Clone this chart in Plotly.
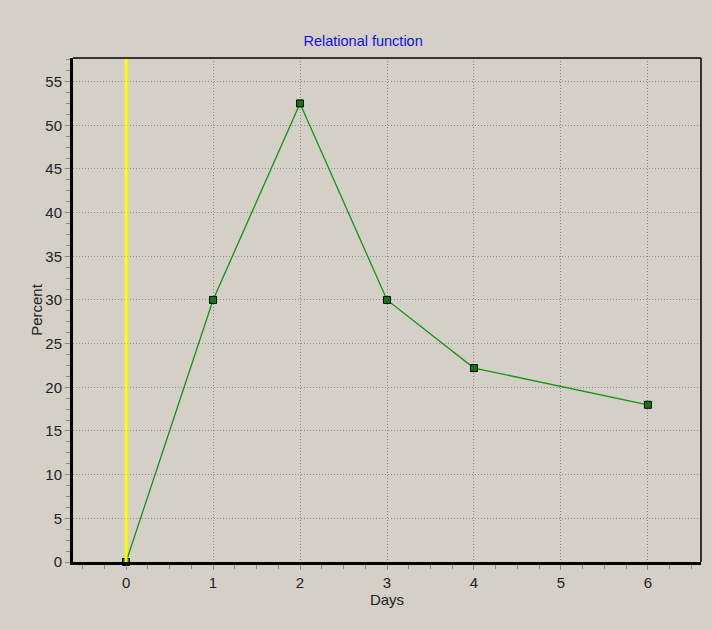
import plotly.graph_objects as go

days = [0, 1, 2, 3, 4, 6]
percent = [0, 30, 52.5, 30, 22.2, 18]
x_ticks = [0, 1, 2, 3, 4, 5, 6]
y_ticks = [0, 5, 10, 15, 20, 25, 30, 35, 40, 45, 50, 55]

BG = "#D4D0C8"
FAM = "Liberation Sans, Arial, sans-serif"
fig = go.Figure()
fig.add_shape(type="line", xref="x", yref="paper", x0=0, x1=0, y0=0, y1=1,
              line=dict(color="#FFFF00", width=3), layer="above")
fig.add_trace(go.Scatter(
    x=days, y=percent, mode="lines+markers",
    line=dict(color="#139413", width=1.3),
    marker=dict(symbol="square", size=7, color="#117711", line=dict(color="black", width=1)),
    showlegend=False, cliponaxis=False,
))

fig.update_layout(
    width=712, height=630,
    paper_bgcolor=BG, plot_bgcolor=BG,
    margin=dict(l=73, r=11, t=58, b=68),
    font=dict(family=FAM, size=15, color="#222222"),
    title=dict(text="Relational function", x=0.51, xanchor="center", xref="container", y=0.935, yanchor="middle",
               font=dict(family=FAM, size=14.5, color="#1010EE")),
    xaxis=dict(range=[-0.61, 6.61], tickvals=x_ticks, ticks="outside", ticklen=5, tickcolor="#888888",
               showgrid=True, gridcolor="#8a8a8a", griddash="1px,2px", gridwidth=1,
               showline=True, linecolor="black", linewidth=3, mirror=False, zeroline=False,
               minor=dict(dtick=0.25, ticks="outside", ticklen=4, tickcolor="#888888", showgrid=False),
               title=dict(text="Days", standoff=2, font=dict(size=15)), tickfont=dict(size=15)),
    yaxis=dict(range=[0, 57.7], tickvals=y_ticks, ticks="outside", ticklen=5, tickcolor="#888888",
               showgrid=True, gridcolor="#8a8a8a", griddash="1px,2px", gridwidth=1,
               showline=True, linecolor="black", linewidth=3, zeroline=False,
               minor=dict(dtick=1.25, ticks="outside", ticklen=4, tickcolor="#888888", showgrid=False),
               title=dict(text="Percent", standoff=0, font=dict(size=15)), tickfont=dict(size=15)),
)
fig.add_shape(type="line", xref="paper", yref="paper", x0=0, x1=1, y0=1, y1=1, line=dict(color="black", width=1.5))
fig.add_shape(type="line", xref="paper", yref="paper", x0=1, x1=1, y0=0, y1=1, line=dict(color="black", width=1.5))
fig.write_html("out.html", config={"displayModeBar": False},
               post_script="document.body.style.margin='0';document.body.style.background='#D4D0C8';")
